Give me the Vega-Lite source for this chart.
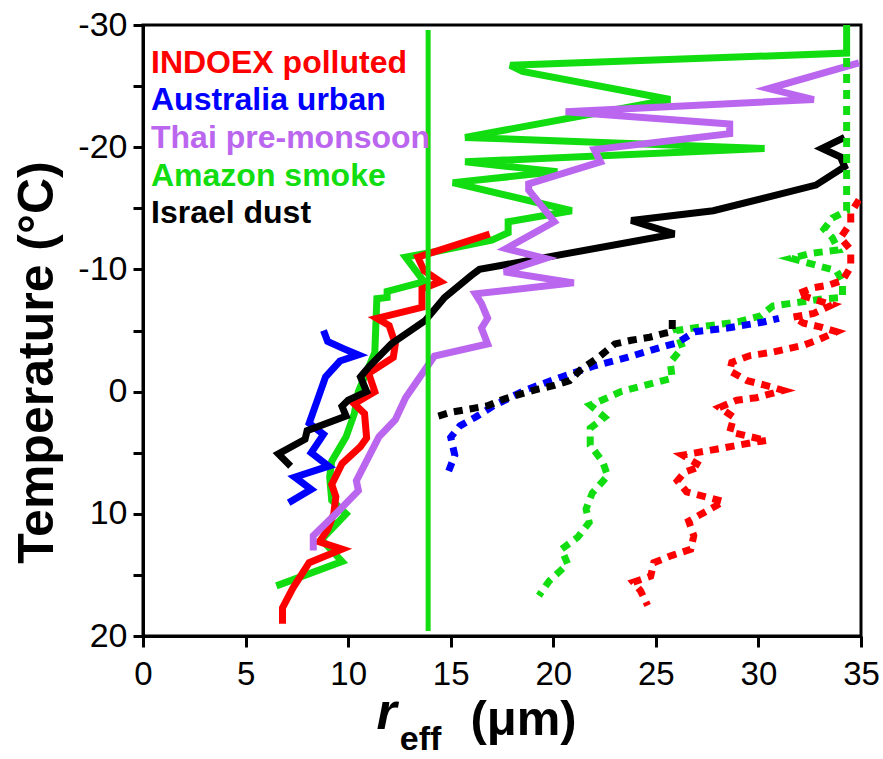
{
  "$schema": "https://vega.github.io/schema/vega-lite/v6.json",
  "width": 718,
  "height": 611,
  "autosize": {"type": "none"},
  "padding": {"left": 143, "top": 25, "right": 22, "bottom": 123},
  "background": "white",
  "config": {
    "view": {"stroke": "#000", "strokeWidth": 3},
    "axis": {"grid": false, "domainColor": "#000", "domainWidth": 3, "tickColor": "#000", "tickWidth": 3, "labelColor": "#000", "titleColor": "#000", "labelFont": "Liberation Sans", "titleFont": "Liberation Sans"},
    "legend": {
      "orient": "none", "legendX": -24, "legendY": 21.5, "padding": 0, "title": null,
      "labelFontSize": 32, "labelFont": "Liberation Sans", "labelFontWeight": "bold",
      "symbolSize": 0, "symbolOpacity": 0, "symbolStrokeWidth": 0, "labelOffset": 0,
      "rowPadding": 5.7, "labelLimit": 400
    }
  },
  "data": {"values": [
    {"s":"Amazon smoke","k":"solid","i":1,"x":6.5,"t":15.9},
    {"s":"Amazon smoke","k":"solid","i":2,"x":9.7,"t":13.9},
    {"s":"Amazon smoke","k":"solid","i":3,"x":8.7,"t":12.1},
    {"s":"Amazon smoke","k":"solid","i":4,"x":9.9,"t":10.0},
    {"s":"Amazon smoke","k":"solid","i":5,"x":9.2,"t":8.9},
    {"s":"Amazon smoke","k":"solid","i":6,"x":9.1,"t":7.0},
    {"s":"Amazon smoke","k":"solid","i":7,"x":9.2,"t":5.7},
    {"s":"Amazon smoke","k":"solid","i":8,"x":9.9,"t":3.7},
    {"s":"Amazon smoke","k":"solid","i":9,"x":10.3,"t":1.8},
    {"s":"Amazon smoke","k":"solid","i":10,"x":10.5,"t":0.0},
    {"s":"Amazon smoke","k":"solid","i":11,"x":11.0,"t":-2.0},
    {"s":"Amazon smoke","k":"solid","i":12,"x":11.3,"t":-3.2},
    {"s":"Amazon smoke","k":"solid","i":13,"x":11.4,"t":-7.6},
    {"s":"Amazon smoke","k":"solid","i":14,"x":11.9,"t":-7.7},
    {"s":"Amazon smoke","k":"solid","i":15,"x":11.9,"t":-8.2},
    {"s":"Amazon smoke","k":"solid","i":16,"x":13.7,"t":-9.0},
    {"s":"Amazon smoke","k":"solid","i":17,"x":12.8,"t":-11.0},
    {"s":"Amazon smoke","k":"solid","i":18,"x":14.1,"t":-11.4},
    {"s":"Amazon smoke","k":"solid","i":19,"x":17.0,"t":-12.4},
    {"s":"Amazon smoke","k":"solid","i":20,"x":17.8,"t":-13.0},
    {"s":"Amazon smoke","k":"solid","i":21,"x":17.8,"t":-13.9},
    {"s":"Amazon smoke","k":"solid","i":22,"x":20.9,"t":-14.8},
    {"s":"Amazon smoke","k":"solid","i":23,"x":15.1,"t":-17.1},
    {"s":"Amazon smoke","k":"solid","i":24,"x":20.2,"t":-18.0},
    {"s":"Amazon smoke","k":"solid","i":25,"x":15.7,"t":-18.8},
    {"s":"Amazon smoke","k":"solid","i":26,"x":30.3,"t":-19.9},
    {"s":"Amazon smoke","k":"solid","i":27,"x":15.7,"t":-20.8},
    {"s":"Amazon smoke","k":"solid","i":28,"x":25.7,"t":-23.9},
    {"s":"Amazon smoke","k":"solid","i":29,"x":18.5,"t":-26.2},
    {"s":"Amazon smoke","k":"solid","i":30,"x":17.9,"t":-26.7},
    {"s":"Amazon smoke","k":"solid","i":31,"x":34.3,"t":-27.7},
    {"s":"Amazon smoke","k":"solid","i":32,"x":34.3,"t":-30.0},

    {"s":"INDOEX polluted","k":"solid","i":1,"x":16.9,"t":-12.9},
    {"s":"INDOEX polluted","k":"solid","i":2,"x":13.4,"t":-11.0},
    {"s":"INDOEX polluted","k":"solid","i":3,"x":13.7,"t":-9.9},
    {"s":"INDOEX polluted","k":"solid","i":4,"x":14.5,"t":-9.0},
    {"s":"INDOEX polluted","k":"solid","i":5,"x":13.6,"t":-8.4},
    {"s":"INDOEX polluted","k":"solid","i":6,"x":13.6,"t":-6.9},
    {"s":"INDOEX polluted","k":"solid","i":7,"x":11.4,"t":-6.0},
    {"s":"INDOEX polluted","k":"solid","i":8,"x":12.0,"t":-5.4},
    {"s":"INDOEX polluted","k":"solid","i":9,"x":12.3,"t":-3.9},
    {"s":"INDOEX polluted","k":"solid","i":10,"x":12.2,"t":-2.8},
    {"s":"INDOEX polluted","k":"solid","i":11,"x":11.0,"t":-1.5},
    {"s":"INDOEX polluted","k":"solid","i":12,"x":11.3,"t":0.0},
    {"s":"INDOEX polluted","k":"solid","i":13,"x":10.3,"t":1.0},
    {"s":"INDOEX polluted","k":"solid","i":14,"x":10.8,"t":1.8},
    {"s":"INDOEX polluted","k":"solid","i":15,"x":10.9,"t":3.8},
    {"s":"INDOEX polluted","k":"solid","i":16,"x":10.6,"t":4.5},
    {"s":"INDOEX polluted","k":"solid","i":17,"x":9.7,"t":5.9},
    {"s":"INDOEX polluted","k":"solid","i":18,"x":9.2,"t":7.6},
    {"s":"INDOEX polluted","k":"solid","i":19,"x":9.4,"t":8.6},
    {"s":"INDOEX polluted","k":"solid","i":20,"x":9.3,"t":10.0},
    {"s":"INDOEX polluted","k":"solid","i":21,"x":9.0,"t":11.3},
    {"s":"INDOEX polluted","k":"solid","i":22,"x":8.6,"t":12.3},
    {"s":"INDOEX polluted","k":"solid","i":23,"x":9.7,"t":12.9},
    {"s":"INDOEX polluted","k":"solid","i":24,"x":8.1,"t":14.0},
    {"s":"INDOEX polluted","k":"solid","i":25,"x":7.3,"t":16.1},
    {"s":"INDOEX polluted","k":"solid","i":26,"x":6.8,"t":17.7},
    {"s":"INDOEX polluted","k":"solid","i":27,"x":6.8,"t":19.0},

    {"s":"Australia urban","k":"solid","i":1,"x":8.8,"t":-5.0},
    {"s":"Australia urban","k":"solid","i":2,"x":9.0,"t":-4.1},
    {"s":"Australia urban","k":"solid","i":3,"x":9.8,"t":-3.5},
    {"s":"Australia urban","k":"solid","i":4,"x":10.5,"t":-3.0},
    {"s":"Australia urban","k":"solid","i":5,"x":9.6,"t":-2.5},
    {"s":"Australia urban","k":"solid","i":6,"x":8.9,"t":-1.2},
    {"s":"Australia urban","k":"solid","i":7,"x":8.5,"t":0.7},
    {"s":"Australia urban","k":"solid","i":8,"x":8.1,"t":2.6},
    {"s":"Australia urban","k":"solid","i":9,"x":8.8,"t":3.5},
    {"s":"Australia urban","k":"solid","i":10,"x":8.2,"t":5.0},
    {"s":"Australia urban","k":"solid","i":11,"x":9.05,"t":6.1},
    {"s":"Australia urban","k":"solid","i":12,"x":7.4,"t":7.0},
    {"s":"Australia urban","k":"solid","i":13,"x":8.2,"t":8.0},
    {"s":"Australia urban","k":"solid","i":14,"x":7.1,"t":9.1},

    {"s":"Israel dust","k":"solid","i":1,"x":7.2,"t":6.1},
    {"s":"Israel dust","k":"solid","i":2,"x":6.6,"t":5.1},
    {"s":"Israel dust","k":"solid","i":3,"x":7.9,"t":3.9},
    {"s":"Israel dust","k":"solid","i":4,"x":8.0,"t":3.2},
    {"s":"Israel dust","k":"solid","i":5,"x":9.9,"t":2.0},
    {"s":"Israel dust","k":"solid","i":6,"x":9.7,"t":1.2},
    {"s":"Israel dust","k":"solid","i":7,"x":10.0,"t":0.7},
    {"s":"Israel dust","k":"solid","i":8,"x":10.9,"t":0.0},
    {"s":"Israel dust","k":"solid","i":9,"x":10.6,"t":-1.2},
    {"s":"Israel dust","k":"solid","i":10,"x":11.0,"t":-2.0},
    {"s":"Israel dust","k":"solid","i":11,"x":12.1,"t":-3.9},
    {"s":"Israel dust","k":"solid","i":12,"x":13.75,"t":-5.8},
    {"s":"Israel dust","k":"solid","i":13,"x":14.7,"t":-7.7},
    {"s":"Israel dust","k":"solid","i":14,"x":16.0,"t":-9.5},
    {"s":"Israel dust","k":"solid","i":15,"x":16.4,"t":-10.0},
    {"s":"Israel dust","k":"solid","i":16,"x":19.7,"t":-11.0},
    {"s":"Israel dust","k":"solid","i":17,"x":25.9,"t":-12.9},
    {"s":"Israel dust","k":"solid","i":18,"x":23.8,"t":-14.0},
    {"s":"Israel dust","k":"solid","i":19,"x":27.8,"t":-14.8},
    {"s":"Israel dust","k":"solid","i":20,"x":32.8,"t":-16.9},
    {"s":"Israel dust","k":"solid","i":21,"x":34.2,"t":-18.4},
    {"s":"Israel dust","k":"solid","i":22,"x":34.0,"t":-19.2},
    {"s":"Israel dust","k":"solid","i":23,"x":33.1,"t":-19.9},
    {"s":"Israel dust","k":"solid","i":24,"x":34.2,"t":-20.8},

    {"s":"Thai pre-monsoon","k":"solid","i":1,"x":8.3,"t":13.0},
    {"s":"Thai pre-monsoon","k":"solid","i":2,"x":8.3,"t":11.8},
    {"s":"Thai pre-monsoon","k":"solid","i":3,"x":9.4,"t":10.0},
    {"s":"Thai pre-monsoon","k":"solid","i":4,"x":10.5,"t":8.1},
    {"s":"Thai pre-monsoon","k":"solid","i":5,"x":10.4,"t":7.3},
    {"s":"Thai pre-monsoon","k":"solid","i":6,"x":11.5,"t":3.7},
    {"s":"Thai pre-monsoon","k":"solid","i":7,"x":12.3,"t":2.3},
    {"s":"Thai pre-monsoon","k":"solid","i":8,"x":12.8,"t":0.5},
    {"s":"Thai pre-monsoon","k":"solid","i":9,"x":14.2,"t":-2.9},
    {"s":"Thai pre-monsoon","k":"solid","i":10,"x":16.8,"t":-3.9},
    {"s":"Thai pre-monsoon","k":"solid","i":11,"x":16.5,"t":-5.2},
    {"s":"Thai pre-monsoon","k":"solid","i":12,"x":16.8,"t":-6.0},
    {"s":"Thai pre-monsoon","k":"solid","i":13,"x":16.5,"t":-7.2},
    {"s":"Thai pre-monsoon","k":"solid","i":14,"x":16.2,"t":-8.0},
    {"s":"Thai pre-monsoon","k":"solid","i":15,"x":21.0,"t":-8.9},
    {"s":"Thai pre-monsoon","k":"solid","i":16,"x":17.6,"t":-9.8},
    {"s":"Thai pre-monsoon","k":"solid","i":17,"x":19.6,"t":-10.9},
    {"s":"Thai pre-monsoon","k":"solid","i":18,"x":17.7,"t":-11.7},
    {"s":"Thai pre-monsoon","k":"solid","i":19,"x":20.05,"t":-13.9},
    {"s":"Thai pre-monsoon","k":"solid","i":20,"x":18.8,"t":-16.5},
    {"s":"Thai pre-monsoon","k":"solid","i":21,"x":18.8,"t":-17.0},
    {"s":"Thai pre-monsoon","k":"solid","i":22,"x":22.3,"t":-18.8},
    {"s":"Thai pre-monsoon","k":"solid","i":23,"x":22.0,"t":-19.8},
    {"s":"Thai pre-monsoon","k":"solid","i":24,"x":28.6,"t":-21.1},
    {"s":"Thai pre-monsoon","k":"solid","i":25,"x":28.6,"t":-21.9},
    {"s":"Thai pre-monsoon","k":"solid","i":26,"x":20.6,"t":-22.9},
    {"s":"Thai pre-monsoon","k":"solid","i":27,"x":32.7,"t":-23.9},
    {"s":"Thai pre-monsoon","k":"solid","i":28,"x":30.5,"t":-24.8},
    {"s":"Thai pre-monsoon","k":"solid","i":29,"x":34.9,"t":-26.9},

    {"s":"Amazon smoke","k":"dotted","i":1,"x":34.3,"t":-27.3},
    {"s":"Amazon smoke","k":"dotted","i":2,"x":34.3,"t":-14.8},
    {"s":"Amazon smoke","k":"dotted","i":3,"x":33.6,"t":-14.2},
    {"s":"Amazon smoke","k":"dotted","i":4,"x":33.2,"t":-13.3},
    {"s":"Amazon smoke","k":"dotted","i":5,"x":33.6,"t":-12.6},
    {"s":"Amazon smoke","k":"dotted","i":6,"x":33.9,"t":-11.6},
    {"s":"Amazon smoke","k":"dotted","i":7,"x":32.5,"t":-11.3},
    {"s":"Amazon smoke","k":"dotted","i":8,"x":31.6,"t":-10.9},
    {"s":"Amazon smoke","k":"dotted","i":9,"x":32.9,"t":-10.3},
    {"s":"Amazon smoke","k":"dotted","i":10,"x":33.8,"t":-9.9},
    {"s":"Amazon smoke","k":"dotted","i":11,"x":34.1,"t":-9.0},
    {"s":"Amazon smoke","k":"dotted","i":12,"x":34.1,"t":-7.7},
    {"s":"Amazon smoke","k":"dotted","i":13,"x":33.2,"t":-7.6},
    {"s":"Amazon smoke","k":"dotted","i":14,"x":31.5,"t":-7.2},
    {"s":"Amazon smoke","k":"dotted","i":15,"x":30.7,"t":-7.0},
    {"s":"Amazon smoke","k":"dotted","i":16,"x":30.1,"t":-6.2},
    {"s":"Amazon smoke","k":"dotted","i":17,"x":29.0,"t":-5.7},
    {"s":"Amazon smoke","k":"dotted","i":18,"x":27.6,"t":-5.4},
    {"s":"Amazon smoke","k":"dotted","i":19,"x":26.0,"t":-5.0},
    {"s":"Amazon smoke","k":"dotted","i":20,"x":26.3,"t":-3.6},
    {"s":"Amazon smoke","k":"dotted","i":21,"x":25.7,"t":-2.4},
    {"s":"Amazon smoke","k":"dotted","i":22,"x":25.8,"t":-1.1},
    {"s":"Amazon smoke","k":"dotted","i":23,"x":25.1,"t":-0.8},
    {"s":"Amazon smoke","k":"dotted","i":24,"x":23.3,"t":0.0},
    {"s":"Amazon smoke","k":"dotted","i":25,"x":22.5,"t":0.6},
    {"s":"Amazon smoke","k":"dotted","i":26,"x":21.8,"t":1.1},
    {"s":"Amazon smoke","k":"dotted","i":27,"x":22.5,"t":2.1},
    {"s":"Amazon smoke","k":"dotted","i":28,"x":21.8,"t":3.0},
    {"s":"Amazon smoke","k":"dotted","i":29,"x":21.8,"t":4.4},
    {"s":"Amazon smoke","k":"dotted","i":30,"x":22.4,"t":5.7},
    {"s":"Amazon smoke","k":"dotted","i":31,"x":22.65,"t":6.9},
    {"s":"Amazon smoke","k":"dotted","i":32,"x":21.9,"t":8.3},
    {"s":"Amazon smoke","k":"dotted","i":33,"x":21.6,"t":9.6},
    {"s":"Amazon smoke","k":"dotted","i":34,"x":21.75,"t":10.7},
    {"s":"Amazon smoke","k":"dotted","i":35,"x":21.2,"t":11.9},
    {"s":"Amazon smoke","k":"dotted","i":36,"x":20.4,"t":12.9},
    {"s":"Amazon smoke","k":"dotted","i":37,"x":20.7,"t":14.1},
    {"s":"Amazon smoke","k":"dotted","i":38,"x":19.8,"t":15.5},
    {"s":"Amazon smoke","k":"dotted","i":39,"x":19.3,"t":16.7},

    {"s":"INDOEX polluted","k":"dotted","i":1,"x":34.9,"t":-15.7},
    {"s":"INDOEX polluted","k":"dotted","i":2,"x":34.5,"t":-14.6},
    {"s":"INDOEX polluted","k":"dotted","i":3,"x":34.5,"t":-13.8},
    {"s":"INDOEX polluted","k":"dotted","i":4,"x":34.0,"t":-12.6},
    {"s":"INDOEX polluted","k":"dotted","i":5,"x":34.5,"t":-11.6},
    {"s":"INDOEX polluted","k":"dotted","i":6,"x":34.5,"t":-10.2},
    {"s":"INDOEX polluted","k":"dotted","i":7,"x":34.1,"t":-9.1},
    {"s":"INDOEX polluted","k":"dotted","i":8,"x":33.4,"t":-8.7},
    {"s":"INDOEX polluted","k":"dotted","i":9,"x":32.7,"t":-8.5},
    {"s":"INDOEX polluted","k":"dotted","i":10,"x":31.9,"t":-8.0},
    {"s":"INDOEX polluted","k":"dotted","i":11,"x":32.8,"t":-7.5},
    {"s":"INDOEX polluted","k":"dotted","i":12,"x":33.6,"t":-7.1},
    {"s":"INDOEX polluted","k":"dotted","i":13,"x":32.7,"t":-6.4},
    {"s":"INDOEX polluted","k":"dotted","i":14,"x":31.7,"t":-6.1},
    {"s":"INDOEX polluted","k":"dotted","i":15,"x":32.2,"t":-5.6},
    {"s":"INDOEX polluted","k":"dotted","i":16,"x":33.0,"t":-5.3},
    {"s":"INDOEX polluted","k":"dotted","i":17,"x":33.8,"t":-4.9},
    {"s":"INDOEX polluted","k":"dotted","i":18,"x":33.0,"t":-4.3},
    {"s":"INDOEX polluted","k":"dotted","i":19,"x":32.2,"t":-3.8},
    {"s":"INDOEX polluted","k":"dotted","i":20,"x":31.4,"t":-3.5},
    {"s":"INDOEX polluted","k":"dotted","i":21,"x":30.6,"t":-3.2},
    {"s":"INDOEX polluted","k":"dotted","i":22,"x":29.6,"t":-2.95},
    {"s":"INDOEX polluted","k":"dotted","i":23,"x":28.7,"t":-2.4},
    {"s":"INDOEX polluted","k":"dotted","i":24,"x":28.6,"t":-1.7},
    {"s":"INDOEX polluted","k":"dotted","i":25,"x":29.45,"t":-0.9},
    {"s":"INDOEX polluted","k":"dotted","i":26,"x":30.6,"t":-0.4},
    {"s":"INDOEX polluted","k":"dotted","i":27,"x":31.2,"t":-0.1},
    {"s":"INDOEX polluted","k":"dotted","i":28,"x":29.9,"t":0.5},
    {"s":"INDOEX polluted","k":"dotted","i":29,"x":28.95,"t":0.7},
    {"s":"INDOEX polluted","k":"dotted","i":30,"x":28.1,"t":1.3},
    {"s":"INDOEX polluted","k":"dotted","i":31,"x":28.8,"t":2.1},
    {"s":"INDOEX polluted","k":"dotted","i":32,"x":28.6,"t":3.3},
    {"s":"INDOEX polluted","k":"dotted","i":33,"x":30.4,"t":4.0},
    {"s":"INDOEX polluted","k":"dotted","i":34,"x":29.6,"t":4.2},
    {"s":"INDOEX polluted","k":"dotted","i":35,"x":28.0,"t":4.7},
    {"s":"INDOEX polluted","k":"dotted","i":36,"x":26.3,"t":5.2},
    {"s":"INDOEX polluted","k":"dotted","i":37,"x":27.2,"t":6.1},
    {"s":"INDOEX polluted","k":"dotted","i":38,"x":26.4,"t":6.6},
    {"s":"INDOEX polluted","k":"dotted","i":39,"x":26.05,"t":7.3},
    {"s":"INDOEX polluted","k":"dotted","i":40,"x":26.5,"t":8.2},
    {"s":"INDOEX polluted","k":"dotted","i":41,"x":28.3,"t":9.0},
    {"s":"INDOEX polluted","k":"dotted","i":42,"x":27.5,"t":9.75},
    {"s":"INDOEX polluted","k":"dotted","i":43,"x":26.6,"t":10.6},
    {"s":"INDOEX polluted","k":"dotted","i":44,"x":26.85,"t":11.8},
    {"s":"INDOEX polluted","k":"dotted","i":45,"x":26.7,"t":12.9},
    {"s":"INDOEX polluted","k":"dotted","i":46,"x":25.8,"t":13.4},
    {"s":"INDOEX polluted","k":"dotted","i":47,"x":24.9,"t":14.0},
    {"s":"INDOEX polluted","k":"dotted","i":48,"x":24.75,"t":15.1},
    {"s":"INDOEX polluted","k":"dotted","i":49,"x":23.9,"t":15.6},
    {"s":"INDOEX polluted","k":"dotted","i":50,"x":24.25,"t":16.3},
    {"s":"INDOEX polluted","k":"dotted","i":51,"x":24.6,"t":17.5},

    {"s":"Australia urban","k":"dotted","i":1,"x":14.9,"t":6.5},
    {"s":"Australia urban","k":"dotted","i":2,"x":15.2,"t":5.2},
    {"s":"Australia urban","k":"dotted","i":3,"x":15.0,"t":3.75},
    {"s":"Australia urban","k":"dotted","i":4,"x":15.45,"t":2.8},
    {"s":"Australia urban","k":"dotted","i":5,"x":16.2,"t":2.1},
    {"s":"Australia urban","k":"dotted","i":6,"x":17.1,"t":1.15},
    {"s":"Australia urban","k":"dotted","i":7,"x":18.6,"t":-0.1},
    {"s":"Australia urban","k":"dotted","i":8,"x":20.4,"t":-1.2},
    {"s":"Australia urban","k":"dotted","i":9,"x":22.0,"t":-2.1},
    {"s":"Australia urban","k":"dotted","i":10,"x":23.6,"t":-2.8},
    {"s":"Australia urban","k":"dotted","i":11,"x":25.2,"t":-3.6},
    {"s":"Australia urban","k":"dotted","i":12,"x":26.05,"t":-4.0},
    {"s":"Australia urban","k":"dotted","i":13,"x":26.9,"t":-4.9},
    {"s":"Australia urban","k":"dotted","i":14,"x":28.5,"t":-5.2},
    {"s":"Australia urban","k":"dotted","i":15,"x":30.25,"t":-5.7},
    {"s":"Australia urban","k":"dotted","i":16,"x":31.0,"t":-6.0},

    {"s":"Israel dust","k":"dotted","i":1,"x":14.4,"t":2.0},
    {"s":"Israel dust","k":"dotted","i":2,"x":15.0,"t":1.7},
    {"s":"Israel dust","k":"dotted","i":3,"x":16.0,"t":1.4},
    {"s":"Israel dust","k":"dotted","i":4,"x":16.8,"t":1.15},
    {"s":"Israel dust","k":"dotted","i":5,"x":17.6,"t":0.6},
    {"s":"Israel dust","k":"dotted","i":6,"x":18.4,"t":0.2},
    {"s":"Israel dust","k":"dotted","i":7,"x":19.25,"t":-0.2},
    {"s":"Israel dust","k":"dotted","i":8,"x":20.05,"t":-0.5},
    {"s":"Israel dust","k":"dotted","i":9,"x":20.8,"t":-0.9},
    {"s":"Israel dust","k":"dotted","i":10,"x":21.4,"t":-1.9},
    {"s":"Israel dust","k":"dotted","i":11,"x":22.2,"t":-2.8},
    {"s":"Israel dust","k":"dotted","i":12,"x":23.0,"t":-3.9},
    {"s":"Israel dust","k":"dotted","i":13,"x":23.8,"t":-4.2},
    {"s":"Israel dust","k":"dotted","i":14,"x":24.7,"t":-4.45},
    {"s":"Israel dust","k":"dotted","i":15,"x":25.5,"t":-4.8},
    {"s":"Israel dust","k":"dotted","i":16,"x":25.8,"t":-4.9},
    {"s":"Israel dust","k":"dotted","i":17,"x":25.8,"t":-5.9},

    {"s":"Amazon smoke","k":"rule","i":1,"x":13.9,"t":-29.6},
    {"s":"Amazon smoke","k":"rule","i":2,"x":13.9,"t":19.6}
  ]},
  "encoding": {
    "y": {"field": "t", "type": "quantitative",
      "scale": {"domain": [-30, 20], "reverse": true, "nice": false, "zero": false},
      "axis": {"values": [-30, -25, -20, -15, -10, -5, 0, 5, 10, 15, 20], "tickSize": 10, "labelFontSize": 34, "labelPadding": 6, "labelFlush": false,
        "labelExpr": "datum.value % 10 === 0 ? (datum.value < 0 ? '-' + abs(datum.value) : '' + datum.value) : ''",
        "title": "Temperature (°C)", "titleFontSize": 50, "titleFontWeight": "bold", "titleAngle": -90, "titleX": -91, "titleY": 337, "titleAlign": "center", "titleBaseline": "alphabetic"}}
  },
  "layer": [
    {
      "transform": [{"filter": "datum.k === 'solid'"}],
      "mark": {"type": "line", "strokeWidth": 7, "clip": true},
      "encoding": {
        "x": {"field": "x", "type": "quantitative", "scale": {"domain": [0, 35], "nice": false, "zero": false},
          "axis": {"orient": "bottom", "values": [0, 5, 10, 15, 20, 25, 30, 35], "tickSize": 11, "labelFontSize": 33, "labelPadding": 11, "labelFlush": false,
            "title": "r", "titleFontSize": 52, "titleFontStyle": "italic", "titleFontWeight": "bold", "titleX": 243, "titleY": 92, "titleAlign": "center", "titleBaseline": "alphabetic"}},
        "color": {"field": "s", "type": "nominal",
          "scale": {"domain": ["INDOEX polluted", "Australia urban", "Thai pre-monsoon", "Amazon smoke", "Israel dust"], "range": ["#ff0000", "#0000ff", "#bb66ee", "#11dd11", "#000000"]},
          "legend": {"encode": {"labels": {"update": {"fill": {"scale": "color", "field": "value"}}}}}},
        "order": {"field": "i", "type": "quantitative"}
      }
    },
    {
      "transform": [{"filter": "datum.k === 'dotted'"}],
      "mark": {"type": "line", "strokeWidth": 7, "strokeDash": [9, 7], "strokeCap": "butt", "clip": true},
      "encoding": {
        "x": {"field": "x", "type": "quantitative",
          "axis": {"orient": "bottom", "labels": false, "ticks": false, "domain": false, "title": "eff", "titleFontSize": 34, "titleFontWeight": "bold", "titleX": 277, "titleY": 113, "titleAlign": "center", "titleBaseline": "alphabetic"}},
        "color": {"field": "s", "type": "nominal", "legend": null},
        "order": {"field": "i", "type": "quantitative"}
      }
    },
    {
      "transform": [{"filter": "datum.k === 'rule'"}],
      "mark": {"type": "line", "strokeWidth": 5, "color": "#11dd11"},
      "encoding": {
        "x": {"field": "x", "type": "quantitative",
          "axis": {"orient": "bottom", "labels": false, "ticks": false, "domain": false, "title": "(μm)", "titleFontSize": 49, "titleFontWeight": "bold", "titleX": 380, "titleY": 98, "titleAlign": "center", "titleBaseline": "alphabetic"}},
        "order": {"field": "i", "type": "quantitative"}
      }
    }
  ],
  "resolve": {"scale": {"x": "shared"}, "axis": {"x": "independent"}}
}
